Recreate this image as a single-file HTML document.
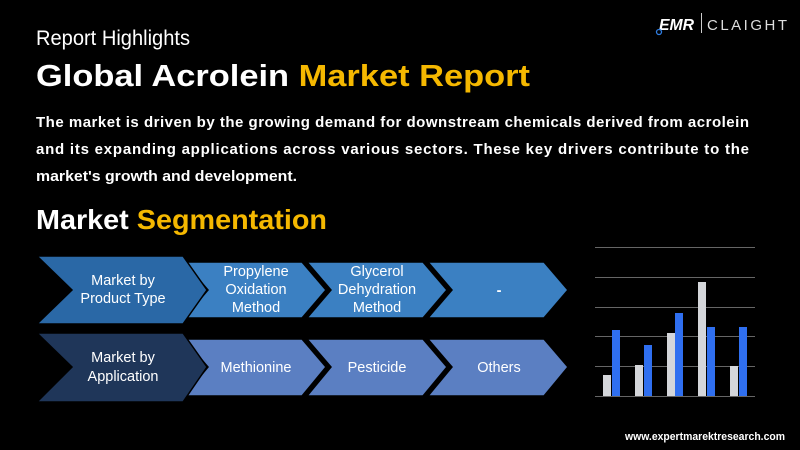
<!DOCTYPE html>
<html><head><meta charset="utf-8"><style>
html,body{margin:0;padding:0;background:#000;}
svg{display:block;}
text{font-family:"Liberation Sans",sans-serif;}
</style></head><body>
<svg width="800" height="450" viewBox="0 0 800 450" xmlns="http://www.w3.org/2000/svg">
<rect width="800" height="450" fill="#000"/>
<text x="659" y="30" font-size="16" font-weight="bold" fill="#fff" font-style="italic" textLength="35" lengthAdjust="spacingAndGlyphs">EMR</text>
<rect x="701" y="13" width="1" height="20" fill="#ccc"/>
<text x="707" y="30" font-size="15" fill="#ddd" textLength="80" lengthAdjust="spacing">CLAIGHT</text>
<circle cx="659" cy="32" r="2.5" fill="none" stroke="#2f7de1" stroke-width="1.3"/>

<text x="36" y="45" font-size="21" fill="#fff" textLength="154" lengthAdjust="spacingAndGlyphs">Report Highlights</text>
<text x="36" y="86" font-size="31" font-weight="bold" fill="#fff" textLength="494" lengthAdjust="spacingAndGlyphs">Global Acrolein <tspan fill="#f5b800">Market Report</tspan></text>

<text x="36" y="127" font-size="15" font-weight="bold" fill="#fff" textLength="713" lengthAdjust="spacing">The market is driven by the growing demand for downstream chemicals derived from acrolein</text>
<text x="36" y="154" font-size="15" font-weight="bold" fill="#fff" textLength="713" lengthAdjust="spacing">and its expanding applications across various sectors. These key drivers contribute to the</text>
<text x="36" y="181" font-size="15" font-weight="bold" fill="#fff" textLength="261" lengthAdjust="spacingAndGlyphs">market's growth and development.</text>

<text x="36" y="229" font-size="28" font-weight="bold" fill="#fff" textLength="291" lengthAdjust="spacingAndGlyphs">Market <tspan fill="#f5b800">Segmentation</tspan></text>

<g stroke="#000" stroke-width="1.5" stroke-linejoin="miter">
<polygon points="428,262 544,262 568,290 544,318 428,318 452,290" fill="#3b80c2"/>
<polygon points="307,262 423,262 447,290 423,318 307,318 331,290" fill="#3b80c2"/>
<polygon points="184,262 302,262 326,290 302,318 184,318 208,290" fill="#3b80c2"/>
<polygon points="37,256 183,256 207,290 183,324 37,324 72,290" fill="#2a68a6"/>
</g>
<g fill="#fff" font-size="14.5" text-anchor="middle">
<text x="123" y="285">Market by</text>
<text x="123" y="303">Product Type</text>
<text x="256" y="276">Propylene</text>
<text x="256" y="294">Oxidation</text>
<text x="256" y="312">Method</text>
<text x="377" y="276">Glycerol</text>
<text x="377" y="294">Dehydration</text>
<text x="377" y="312">Method</text>
<text x="499" y="295" font-weight="bold">-</text>
</g>
<g stroke="#000" stroke-width="1.5" stroke-linejoin="miter">
<polygon points="428,339 544,339 568,367 544,396 428,396 452,367" fill="#5b7fc2"/>
<polygon points="307,339 423,339 447,367 423,396 307,396 331,367" fill="#5b7fc2"/>
<polygon points="184,339 302,339 326,367 302,396 184,396 208,367" fill="#5b7fc2"/>
<polygon points="37,333 183,333 207,367 183,402 37,402 72,367" fill="#1f3659"/>
</g>
<g fill="#fff" font-size="14.5" text-anchor="middle">
<text x="123" y="362">Market by</text>
<text x="123" y="381">Application</text>
<text x="256" y="372">Methionine</text>
<text x="377" y="372">Pesticide</text>
<text x="499" y="372">Others</text>
</g>

<g stroke="#666" stroke-width="1">
<line x1="595" y1="247.5" x2="755" y2="247.5"/>
<line x1="595" y1="277.5" x2="755" y2="277.5"/>
<line x1="595" y1="307.5" x2="755" y2="307.5"/>
<line x1="595" y1="336.5" x2="755" y2="336.5"/>
<line x1="595" y1="366.5" x2="755" y2="366.5"/>
<line x1="595" y1="396.5" x2="755" y2="396.5"/>
</g>
<g fill="#d4d6da">
<rect x="603" y="375" width="8" height="21"/>
<rect x="635" y="365" width="8" height="31"/>
<rect x="667" y="333" width="8" height="63"/>
<rect x="698" y="282" width="8" height="114"/>
<rect x="730" y="366" width="8" height="30"/>
</g>
<g fill="#2f6ff0">
<rect x="612" y="330" width="8" height="66"/>
<rect x="644" y="345" width="8" height="51"/>
<rect x="675" y="313" width="8" height="83"/>
<rect x="707" y="327" width="8" height="69"/>
<rect x="739" y="327" width="8" height="69"/>
</g>

<text x="625" y="440" font-size="11" font-weight="bold" fill="#fff" textLength="160" lengthAdjust="spacingAndGlyphs">www.expertmarektresearch.com</text>
</svg>
</body></html>
